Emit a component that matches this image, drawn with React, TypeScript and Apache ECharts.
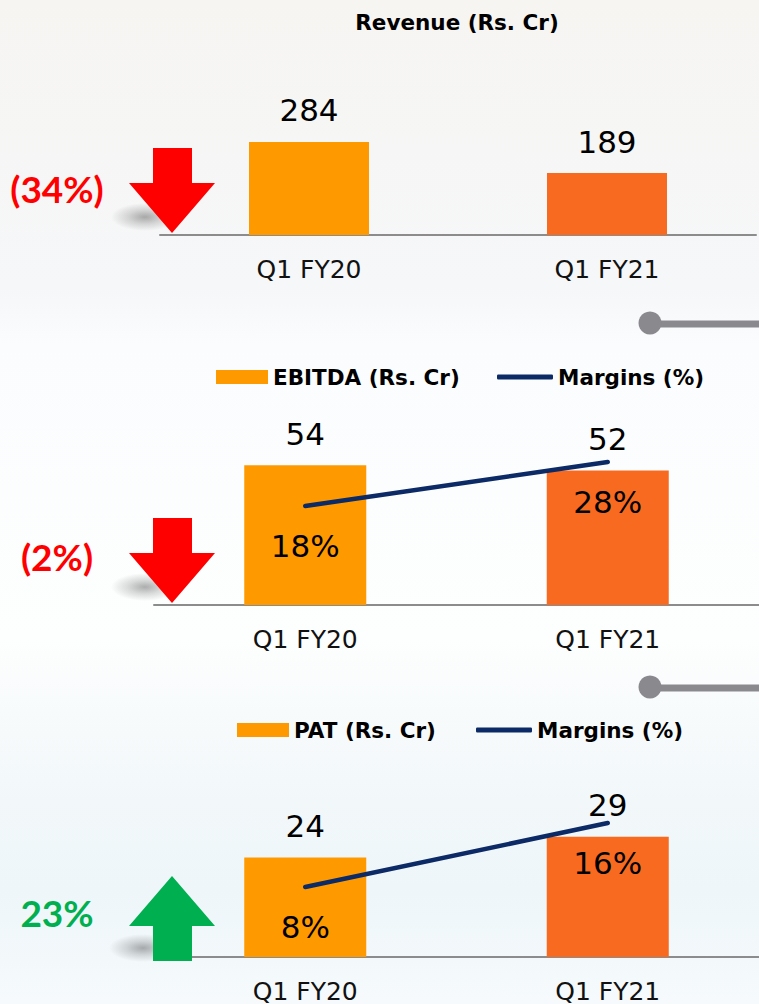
import React, { useEffect, useRef } from "react";
import * as echarts from "echarts";

const categories = ["Q1 FY20", "Q1 FY21"];
const revenue = [284, 189];
const ebitda = [54, 52];
const ebitdaMargin = [18, 28];
const pat = [24, 29];
const patMargin = [8, 16];
const barColors = ["#FF9900", "#F86A1F"];
const growthLabels = ["(34%)", "(2%)", "23%"];
const titleText = "Revenue (Rs. Cr)";
const ebitdaName = "EBITDA (Rs. Cr)";
const patName = "PAT (Rs. Cr)";
const marginName = "Margins (%)";

const NAVY = "#0B2A66";
const NUM_FONT = "DejaVu Sans";

export default function App() {
  const ref = useRef<HTMLDivElement>(null);

  useEffect(() => {
    document.body.style.margin = "0";
    if (!ref.current) return;
    const chart = echarts.init(ref.current, undefined, { renderer: "svg" });

    const barData = (vals: number[]) =>
      vals.map((v, i) => ({ value: v, itemStyle: { color: barColors[i] } }));

    const barLabel = {
      show: true,
      position: "top",
      distance: 16,
      fontFamily: NUM_FONT,
      fontSize: 31,
      color: "#000",
    };
    const lineLabel = {
      show: true,
      position: "bottom",
      distance: 24,
      formatter: "{c}%",
      fontFamily: NUM_FONT,
      fontSize: 31,
      color: "#000",
    };

    const xAxisBase = (gridIndex: number) => ({
      type: "category",
      gridIndex,
      data: categories,
      axisTick: { show: false },
      axisLine: { lineStyle: { color: "#8c8c8c", width: 2 } },
      axisLabel: { margin: 22, fontFamily: NUM_FONT, fontSize: 25, color: "#111" },
    });
    const yAxisBase = (gridIndex: number, min: number, max: number) => ({
      type: "value",
      gridIndex,
      min,
      max,
      show: false,
      splitLine: { show: false },
    });

    const legendBase = (left: number, top: number, name: string, icon: string, w: number, h: number) => ({
      data: [{ name, icon }],
      left,
      top,
      padding: 0,
      itemWidth: w,
      itemHeight: h,
      selectedMode: false,
      itemStyle: { borderWidth: 0 },
      textStyle: { fontFamily: NUM_FONT, fontWeight: "bold", fontSize: 21.5, color: "#000" },
    });

    const arrowDown = (top: number, base: number, tip: number) => [
      [153, top], [192, top], [192, base], [215, base], [172, tip], [129, base], [153, base],
    ];
    const arrowUp = (tip: number, base: number, bottom: number) => [
      [172, tip], [215, base], [192, base], [192, bottom], [153, bottom], [153, base], [129, base],
    ];
    const shadow = (cx: number, cy: number) => ({
      type: "ellipse",
      shape: { cx, cy, rx: 34, ry: 14 },
      style: {
        fill: {
          type: "radial", x: 0.5, y: 0.5, r: 0.5,
          colorStops: [
            { offset: 0, color: "rgba(0,0,0,0.32)" },
            { offset: 0.5, color: "rgba(0,0,0,0.14)" },
            { offset: 1, color: "rgba(0,0,0,0)" },
          ],
        },
      },
      z: 1,
    });
    const sideText = (text: string, y: number, color: string) => ({
      type: "text",
      x: 57,
      y,
      style: {
        text, fill: color, fontFamily: "Lato", fontWeight: "bold", fontSize: 37,
        align: "center", verticalAlign: "middle",
      },
      z: 5,
    });
    const connector = (y: number) => [
      { type: "line", shape: { x1: 650, y1: y + 1, x2: 765, y2: y + 1 }, style: { stroke: "#8a8a8e", lineWidth: 7 }, z: 5 },
      { type: "circle", shape: { cx: 650, cy: y, r: 11.5 }, style: { fill: "#8a8a8e" }, z: 5 },
    ];

    const option: any = {
      animation: false,
      grid: [
        { left: 160, top: 104, width: 596, height: 131 },
        { left: 154, top: 398, width: 608, height: 207 },
        { left: 154, top: 791, width: 608, height: 166 },
      ],
      xAxis: [xAxisBase(0), xAxisBase(1), xAxisBase(2)],
      yAxis: [
        yAxisBase(0, 0, 400),
        yAxisBase(1, 0, 80),
        yAxisBase(1, -4.5, 42.55),
        yAxisBase(2, 0, 40),
        yAxisBase(2, -0.75, 20),
      ],
      legend: [
        legendBase(216, 366, ebitdaName, "rect", 52, 14),
        legendBase(497, 366, marginName, "roundRect", 56, 5),
        legendBase(237, 719, patName, "rect", 52, 14),
        legendBase(476, 719, marginName, "roundRect", 56, 5),
      ],
      series: [
        {
          type: "bar", name: titleText, xAxisIndex: 0, yAxisIndex: 0,
          barWidth: 120, data: barData(revenue), label: barLabel,
          itemStyle: { color: barColors[0] },
        },
        {
          type: "bar", name: ebitdaName, xAxisIndex: 1, yAxisIndex: 1,
          barWidth: 122, data: barData(ebitda), label: barLabel,
          itemStyle: { color: barColors[0] },
        },
        {
          type: "line", name: marginName, xAxisIndex: 1, yAxisIndex: 2,
          data: ebitdaMargin, symbol: "circle", symbolSize: 1,
          itemStyle: { color: NAVY }, lineStyle: { color: NAVY, width: 4.5, cap: "round" },
          label: lineLabel, z: 3,
        },
        {
          type: "bar", name: patName, xAxisIndex: 2, yAxisIndex: 3,
          barWidth: 122, data: barData(pat), label: barLabel,
          itemStyle: { color: barColors[0] },
        },
        {
          type: "line", name: marginName, xAxisIndex: 2, yAxisIndex: 4,
          data: patMargin, symbol: "circle", symbolSize: 1,
          itemStyle: { color: NAVY }, lineStyle: { color: NAVY, width: 4.5, cap: "round" },
          label: lineLabel, z: 3,
        },
      ],
      graphic: [
        {
          type: "text", x: 457, y: 22, z: 5,
          style: {
            text: titleText, fill: "#000", fontFamily: NUM_FONT, fontWeight: "bold",
            fontSize: 21.5, align: "center", verticalAlign: "middle",
          },
        },
        sideText(growthLabels[0], 188, "#FF0000"),
        sideText(growthLabels[1], 556, "#FF0000"),
        sideText(growthLabels[2], 912, "#00B050"),
        shadow(145, 217),
        shadow(145, 587),
        shadow(143, 948),
        { type: "polygon", shape: { points: arrowDown(148, 183, 233) }, style: { fill: "#FF0000" }, z: 4 },
        { type: "polygon", shape: { points: arrowDown(518, 553, 603) }, style: { fill: "#FF0000" }, z: 4 },
        { type: "polygon", shape: { points: arrowUp(876, 926, 961) }, style: { fill: "#00B050" }, z: 4 },
        ...connector(323),
        ...connector(687),
      ],
    };

    chart.setOption(option);
    return () => chart.dispose();
  }, []);

  return (
    <div
      ref={ref}
      style={{
        width: 759,
        height: 1004,
        background:
          "linear-gradient(to bottom, #f6f5f2 0px, #f6f7f9 290px, #fbfcfd 345px, #fdfefe 640px, #f3f8fa 780px, #eef6f9 890px, #f6fafc 1004px)",
      }}
    />
  );
}
